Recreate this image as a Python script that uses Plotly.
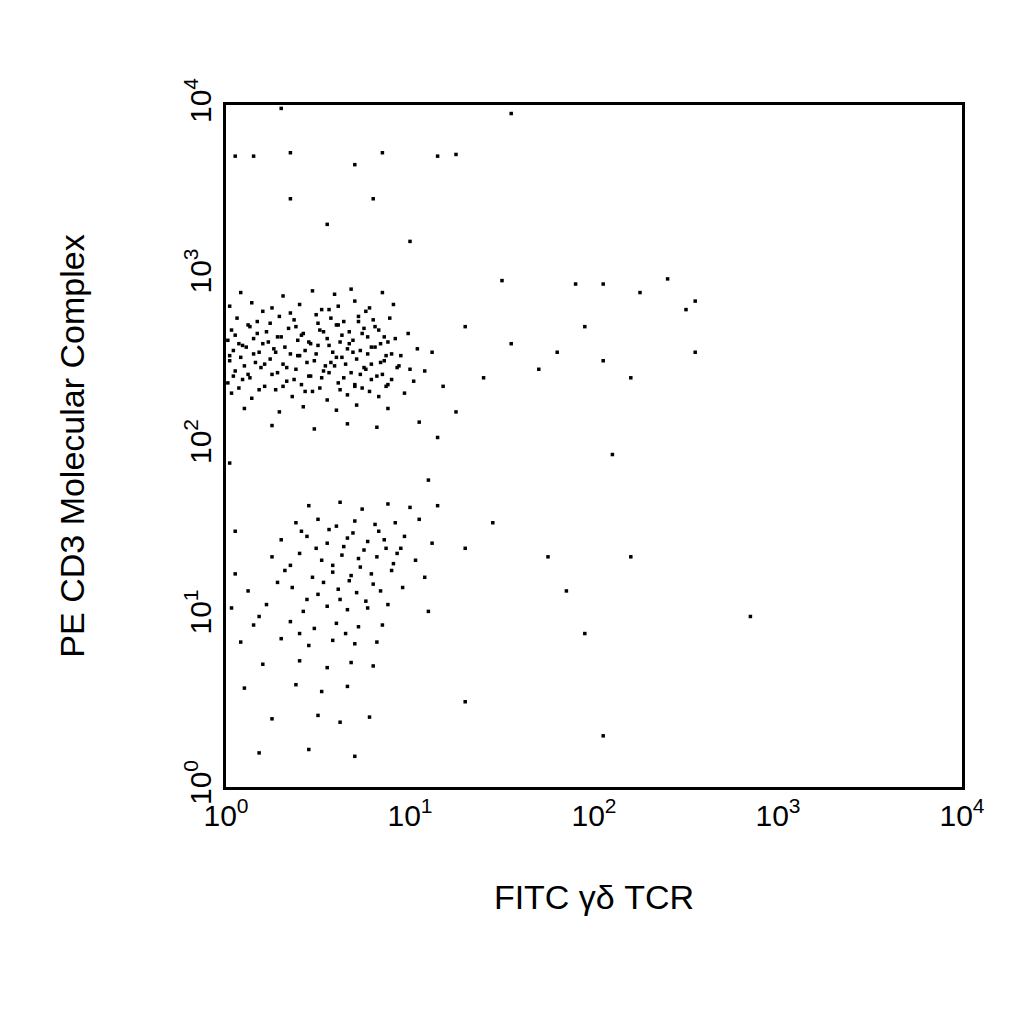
import plotly.graph_objects as go

# log10 values
top_x = [0.03,0.14,0.27,0.36,0.47,0.55,0.66,0.74,0.83,0.97,
         0.01,0.09,0.21,0.33,0.41,0.52,0.61,0.70,0.79,0.88,1.02,
         0.05,0.12,0.19,0.28,0.38,0.45,0.53,0.59,0.68,0.76,0.85,0.93,1.08,
         0.02,0.08,0.16,0.24,0.31,0.40,0.48,0.57,0.63,0.71,0.79,0.86,0.95,
         0.04,0.11,0.18,0.26,0.35,0.43,0.50,0.58,0.66,0.73,0.81,0.90,1.04,
         0.01,0.07,0.15,0.23,0.30,0.39,0.46,0.55,0.62,0.69,0.77,0.84,0.92,
         0.03,0.13,0.22,0.34,0.42,0.51,0.60,0.67,0.75,0.83,0.99,
         0.06,0.17,0.29,0.37,0.49,0.57,0.64,0.72,0.80,0.89,
         0.02,0.14,0.25,0.40,0.52,0.61,0.70,0.78,0.91,
         0.08,0.31,0.47,0.59,0.68,0.85,
         0.10,0.29,0.42,0.60,0.71,0.88,
         0.25,0.48,0.66,0.82,1.05]
top_y = [2.31,2.28,2.33,2.29,2.32,2.27,2.30,2.34,2.29,2.31,
         2.37,2.39,2.35,2.38,2.36,2.40,2.37,2.35,2.39,2.36,2.38,
         2.44,2.42,2.46,2.43,2.45,2.41,2.44,2.47,2.43,2.45,2.42,2.46,2.44,
         2.50,2.52,2.49,2.51,2.48,2.53,2.50,2.49,2.52,2.51,2.48,2.50,2.53,
         2.56,2.58,2.55,2.57,2.54,2.56,2.59,2.55,2.57,2.56,2.58,2.54,2.57,
         2.62,2.60,2.63,2.61,2.64,2.62,2.60,2.63,2.61,2.62,2.64,2.60,2.63,
         2.68,2.70,2.67,2.69,2.66,2.68,2.71,2.67,2.69,2.68,2.66,
         2.75,2.73,2.76,2.74,2.77,2.75,2.73,2.76,2.74,2.75,
         2.82,2.84,2.81,2.83,2.80,2.82,2.85,2.81,2.83,
         2.90,2.88,2.91,2.89,2.92,2.90,
         2.22,2.20,2.23,2.21,2.24,2.22,
         2.12,2.10,2.13,2.11,2.14]

# second pass over the dense core
core_x = [0.07,0.18,0.31,0.43,0.51,0.62,0.70,0.78,0.87,
          0.04,0.13,0.25,0.37,0.46,0.56,0.64,0.73,0.82,0.90,
          0.10,0.21,0.33,0.44,0.54,0.65,0.75,0.84,0.94,
          0.02,0.15,0.27,0.39,0.49,0.60,0.69,0.77,0.87,
          0.09,0.20,0.32,0.45,0.56,0.67,0.79,0.88,
          0.05,0.17,0.28,0.41,0.53,0.63,0.74,0.86,
          0.12,0.24,0.38,0.50,0.61,0.72,0.81,
          0.20,0.35,0.56,0.76,1.00,1.12,1.18]
core_y = [2.34,2.33,2.35,2.32,2.34,2.33,2.36,2.32,2.35,
          2.41,2.40,2.42,2.39,2.41,2.43,2.40,2.42,2.41,2.39,
          2.47,2.48,2.46,2.49,2.47,2.48,2.46,2.49,2.47,
          2.53,2.54,2.55,2.53,2.54,2.52,2.55,2.54,2.53,
          2.59,2.60,2.58,2.61,2.59,2.60,2.58,2.61,
          2.65,2.66,2.64,2.65,2.67,2.65,2.66,2.64,
          2.71,2.72,2.70,2.72,2.71,2.73,2.70,
          2.79,2.78,2.80,2.79,2.45,2.55,2.35]

low_x = [0.45,0.62,0.74,0.88,1.00,1.15,
         0.38,0.50,0.60,0.70,0.81,0.92,1.05,
         0.30,0.44,0.55,0.66,0.77,0.86,0.97,1.12,
         0.25,0.40,0.52,0.63,0.72,0.82,0.93,1.03,
         0.05,0.32,0.47,0.58,0.68,0.79,0.90,1.08,
         0.12,0.36,0.50,0.61,0.71,0.84,0.96,
         0.03,0.22,0.42,0.55,0.66,0.77,0.88,1.10,
         0.15,0.35,0.48,0.60,0.72,0.85,
         0.08,0.30,0.45,0.58,0.70,0.82,
         0.20,0.40,0.55,0.68,0.80,
         0.10,0.38,0.52,0.66,
         0.25,0.50,0.62,0.78,
         0.18,0.45,0.70,
         0.41,0.56,0.69,0.83,0.95,0.49,0.64,0.75,0.87,0.35,0.58,0.73,0.91,
         0.28,0.53,0.67,0.80,0.44,0.62,0.76,0.18,0.40,0.65]
low_y = [1.65,1.67,1.63,1.66,1.64,1.65,
         1.55,1.57,1.53,1.56,1.54,1.55,1.57,
         1.45,1.47,1.43,1.46,1.44,1.45,1.47,1.43,
         1.35,1.37,1.33,1.36,1.34,1.35,1.37,1.33,
         1.25,1.27,1.23,1.26,1.24,1.25,1.27,1.23,
         1.15,1.17,1.13,1.16,1.14,1.15,1.17,
         1.05,1.07,1.03,1.06,1.04,1.05,1.07,1.03,
         0.95,0.97,0.93,0.96,0.94,0.95,
         0.85,0.87,0.83,0.86,0.84,0.85,
         0.72,0.74,0.70,0.73,0.71,
         0.58,0.60,0.56,0.59,
         0.40,0.42,0.38,0.41,
         0.20,0.22,0.18,
         1.50,1.51,1.49,1.50,1.40,1.40,1.41,1.39,1.40,1.30,1.30,1.29,1.31,
         1.20,1.20,1.21,1.19,1.10,1.10,1.09,1.00,0.90,0.90]

out_x = [0.05,0.15,0.35,0.70,0.85,1.15,1.25,0.35,0.80,0.55,1.00,1.55,0.30,
         1.50,1.90,2.05,2.25,2.40,2.50,2.55,1.55,1.70,1.80,1.95,2.20,2.05,2.55,
         1.30,1.40,1.25,1.15,2.10,1.45,1.30,1.75,2.20,1.85,2.85,1.95,2.05,1.30,
         1.10,0.05,0.02]
out_y = [3.70,3.70,3.72,3.65,3.72,3.70,3.71,3.45,3.45,3.30,3.20,3.95,3.98,
         2.97,2.95,2.95,2.90,2.98,2.80,2.85,2.60,2.45,2.55,2.70,2.40,2.50,2.55,
         2.70,2.40,2.20,2.05,1.95,1.55,1.40,1.35,1.35,1.15,1.00,0.90,0.30,0.50,
         1.80,1.50,1.90]

xs = [10 ** v for v in top_x + core_x + low_x + out_x]
ys = [10 ** v for v in top_y + core_y + low_y + out_y]

tickvals = [1, 10, 100, 1000, 10000]
ticktext = ["10<sup>0</sup>", "10<sup>1</sup>", "10<sup>2</sup>", "10<sup>3</sup>", "10<sup>4</sup>"]

fig = go.Figure(go.Scatter(x=xs, y=ys, mode="markers",
                           marker=dict(symbol="square", size=3.5, color="black")))
font = dict(family="Liberation Sans, Arial", size=28, color="black")
fig.update_layout(width=1024, height=1024, plot_bgcolor="white", paper_bgcolor="white",
                  margin=dict(l=218, r=70, t=97, b=245), showlegend=False, font=font)
fig.update_xaxes(type="log", range=[0, 4], tickvals=tickvals, ticktext=ticktext,
                 showgrid=False, zeroline=False, showline=True, mirror=True,
                 linecolor="black", linewidth=3, ticks="", tickfont=dict(size=30),
                 title=dict(text="FITC γδ TCR", font=dict(size=34), standoff=55))
fig.update_yaxes(type="log", range=[0, 4], tickvals=tickvals, ticktext=ticktext,
                 showgrid=False, zeroline=False, showline=True, mirror=True,
                 linecolor="black", linewidth=3, ticks="", tickangle=-90, tickfont=dict(size=30),
                 title=dict(text="PE CD3 Molecular Complex", font=dict(size=34), standoff=85))
fig.write_html("out.html")
